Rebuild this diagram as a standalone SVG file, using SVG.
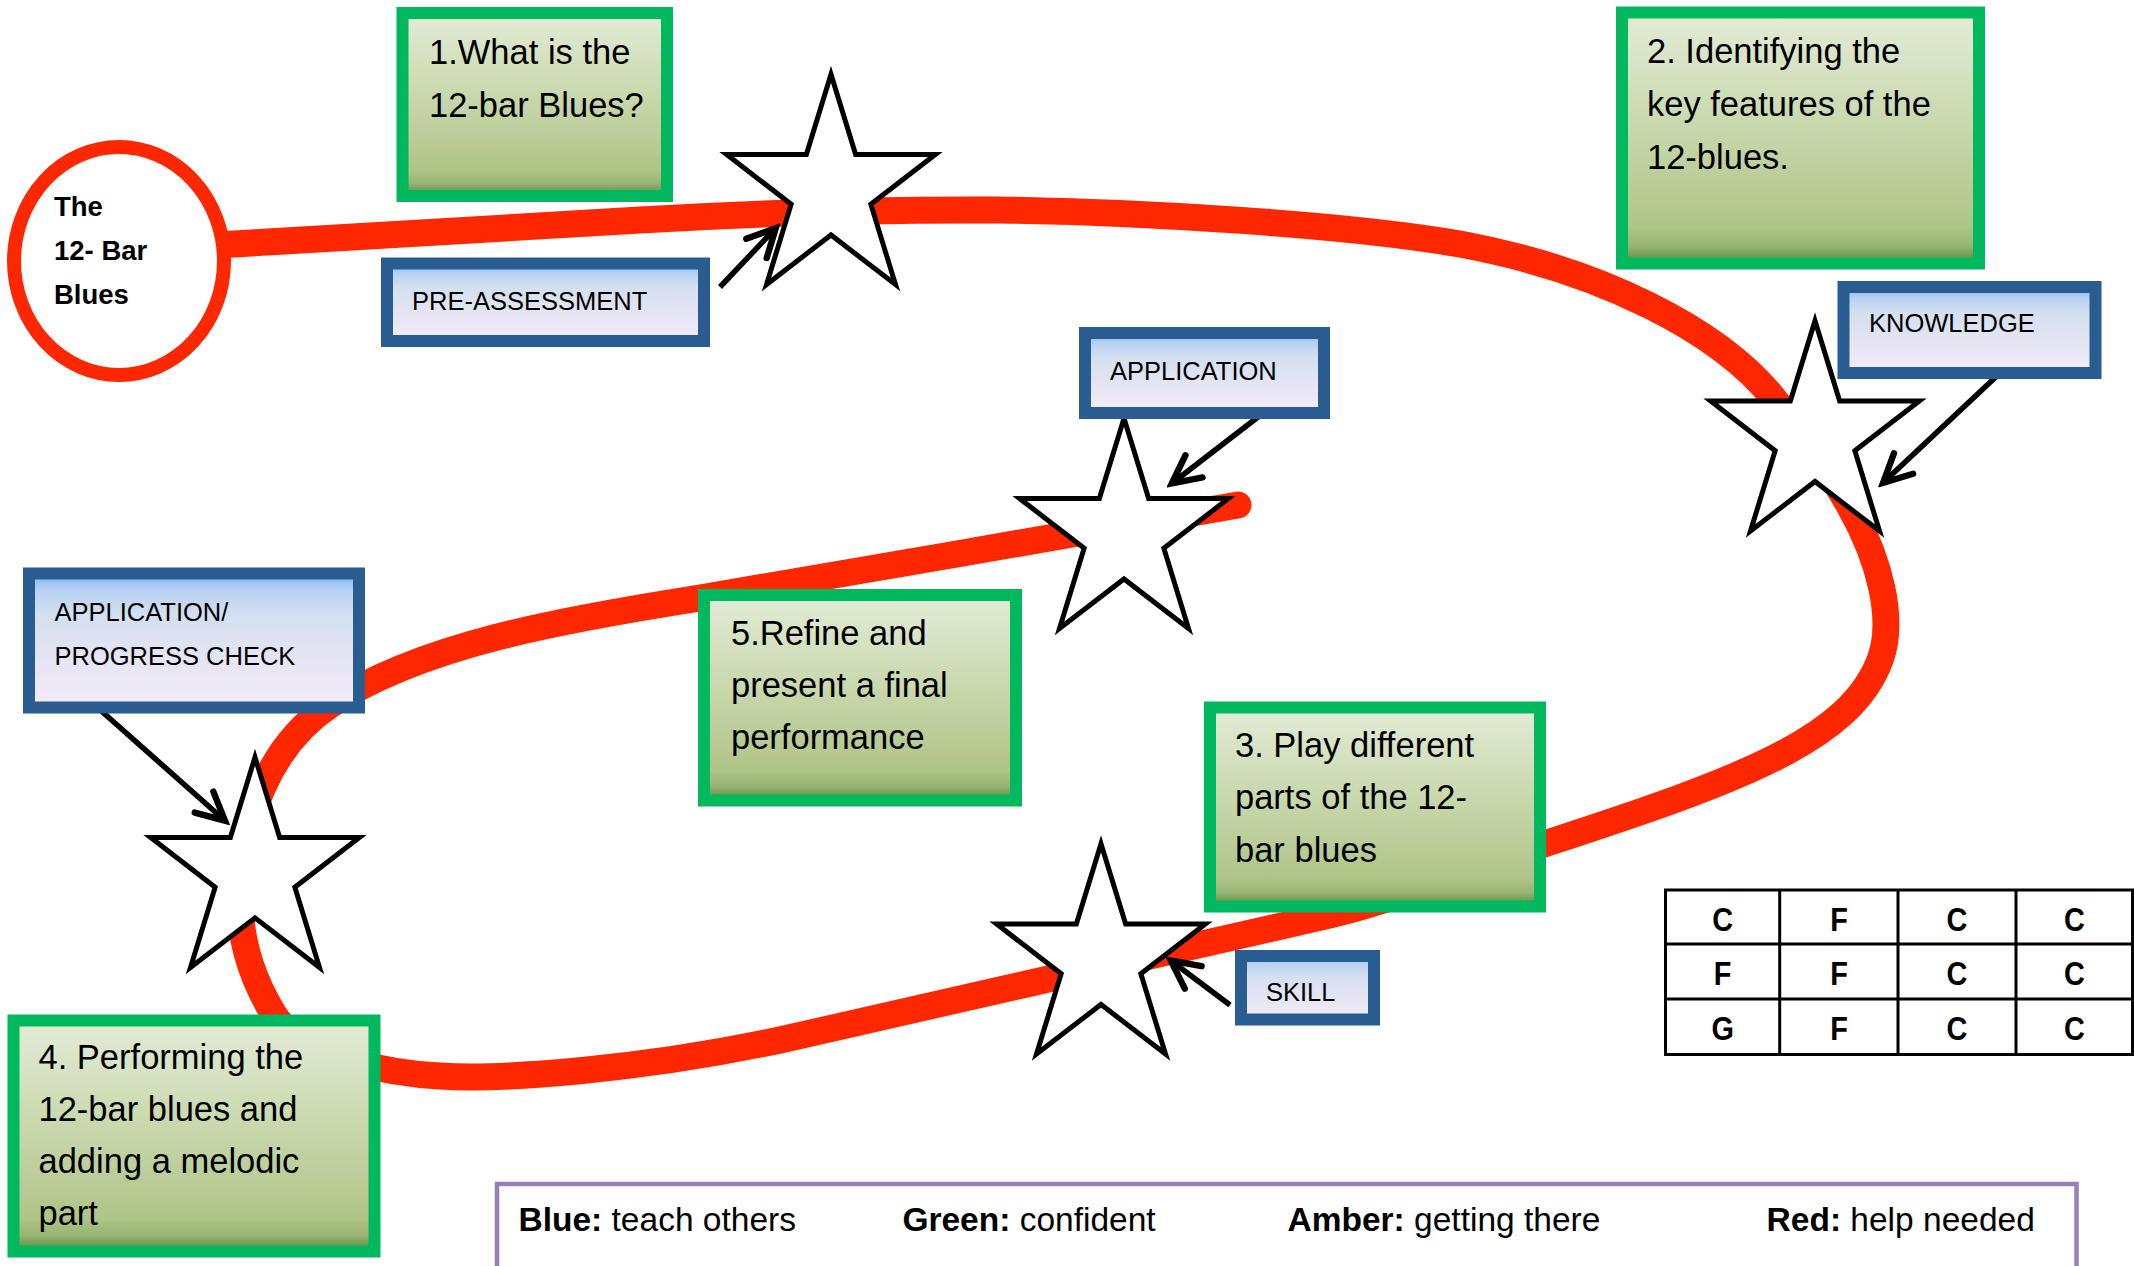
<svg xmlns="http://www.w3.org/2000/svg" xmlns:xlink="http://www.w3.org/1999/xlink" width="2134" height="1266" viewBox="0 0 2134 1266">
<style>
text { font-family: "Liberation Sans", Arial, sans-serif; fill: #000; }
.gbox { fill: url(#gGreen); stroke: #00b85e; stroke-width: 12; }
.bbox { fill: url(#gBlue); stroke: #295d91; stroke-width: 12; }
.gt { font-size: 34.5px; }
.bt { font-size: 25.5px; }
.star { fill: #fff; stroke: #000; stroke-width: 5; stroke-linejoin: miter; }
.red { fill: none; stroke: #fe2700; stroke-width: 27; stroke-linecap: round; stroke-linejoin: round; }
.arrow { fill: none; stroke: #000; stroke-width: 5.5; marker-end: url(#ah); }
.cell { font-size: 34px; font-weight: bold; text-anchor: middle; }
.grid { stroke: #000; stroke-width: 3; fill: none; }
.leg { font-size: 33.5px; }
</style>
<defs>
<linearGradient id="gGreen" x1="0" y1="0" x2="0" y2="1">
<stop offset="0" stop-color="#e3ecd7"/>
<stop offset="0.45" stop-color="#c9d8ad"/>
<stop offset="0.86" stop-color="#afc487"/>
<stop offset="0.93" stop-color="#98b474"/>
<stop offset="1" stop-color="#578a3a"/>
</linearGradient>
<linearGradient id="gBlue" x1="0" y1="0" x2="0" y2="1">
<stop offset="0" stop-color="#78b6f6"/>
<stop offset="0.12" stop-color="#b7d1f1"/>
<stop offset="0.3" stop-color="#d3dfef"/>
<stop offset="0.7" stop-color="#e8e6f4"/>
<stop offset="1" stop-color="#f5ebf8"/>
</linearGradient>
<path id="starShape" d="M0,-116.3 L24.63,-35.94 L104.32,-35.94 L39.85,13.72 L64.5,94.09 L0,44.43 L-64.5,94.09 L-39.85,13.72 L-104.32,-35.94 L-24.63,-35.94 Z"/>
<marker id="ah" viewBox="0 0 20 20" refX="15" refY="10" markerWidth="40" markerHeight="40" markerUnits="userSpaceOnUse" orient="auto">
<path d="M3,3 L17,10 L3,17" fill="none" stroke="#000" stroke-width="3.2" stroke-linecap="round" stroke-linejoin="miter"/>
</marker>
</defs>

<rect width="2134" height="1266" fill="#fff"/>

<g id="connectors">
<path id="journey" class="red" d="M225,244.5 L640,220 C720,215.3 850,209 1000,210 C1150,212 1350,225 1460,244 C1600,270 1720,330 1775,400 C1810,445 1838,485 1850,507 C1880,560 1895,620 1880,660 C1850,740 1740,780 1547,843 C1460,873 1400,898 1330,915 C1200,945 1000,990 780,1040 C640,1070 500,1080 440,1076 C400,1074 300,1060 273,1013 C250,975 240,935 240,900 C240,820 270,745 330,705 C420,645 560,620 700,598 C850,572 1100,530 1238,505"/>
<path class="arrow" d="M720,287 L773,231"/>
<path class="arrow" d="M2000,373 L1886,480"/>
<path class="arrow" d="M1258,417 L1175,481"/>
<path class="arrow" d="M98,708 L222,818"/>
<path class="arrow" d="M1230,1005 L1174,963"/>
</g>

<g id="start">
<ellipse cx="119" cy="261" rx="105" ry="114" fill="#fff" stroke="#fe2700" stroke-width="14"/>
<text x="54" y="216" font-size="27.5" font-weight="bold">The</text>
<text x="54" y="260" font-size="27.5" font-weight="bold">12- Bar</text>
<text x="54" y="304" font-size="27.5" font-weight="bold">Blues</text>
</g>

<g id="star1"><use xlink:href="#starShape" href="#starShape" class="star" x="831" y="190.5"/></g>
<g id="star2"><use xlink:href="#starShape" href="#starShape" class="star" x="1815" y="437"/></g>
<g id="star3"><use xlink:href="#starShape" href="#starShape" class="star" x="1124" y="534.5"/></g>
<g id="star4"><use xlink:href="#starShape" href="#starShape" class="star" x="255" y="873.5"/></g>
<g id="star5"><use xlink:href="#starShape" href="#starShape" class="star" x="1101" y="960"/></g>

<g id="step1">
<rect class="gbox" x="402.5" y="13" width="264.5" height="183"/>
<text class="gt" x="429" y="64">1.What is the</text>
<text class="gt" x="429" y="117">12-bar Blues?</text>
</g>

<g id="step2">
<rect class="gbox" x="1622" y="12.5" width="357" height="251"/>
<text class="gt" x="1647" y="63">2. Identifying the</text>
<text class="gt" x="1647" y="116">key features of the</text>
<text class="gt" x="1647" y="169">12-blues.</text>
</g>

<g id="step3">
<rect class="gbox" x="1210" y="707.5" width="330" height="199"/>
<text class="gt" x="1235" y="757">3. Play different</text>
<text class="gt" x="1235" y="809">parts of the 12-</text>
<text class="gt" x="1235" y="862">bar blues</text>
</g>

<g id="step4">
<rect class="gbox" x="13.5" y="1020.5" width="361" height="231"/>
<text class="gt" x="38.5" y="1069">4. Performing the</text>
<text class="gt" x="38.5" y="1121">12-bar blues and</text>
<text class="gt" x="38.5" y="1173">adding a melodic</text>
<text class="gt" x="38.5" y="1225">part</text>
</g>

<g id="step5">
<rect class="gbox" x="704" y="595" width="312" height="205.5"/>
<text class="gt" x="731" y="645">5.Refine and</text>
<text class="gt" x="731" y="697">present a final</text>
<text class="gt" x="731" y="749">performance</text>
</g>

<g id="preassessment">
<rect class="bbox" x="387" y="263.5" width="317" height="77.5"/>
<text class="bt" x="412" y="310">PRE-ASSESSMENT</text>
</g>

<g id="knowledge">
<rect class="bbox" x="1843.5" y="287" width="252" height="86"/>
<text class="bt" x="1869" y="332" font-size="26.5">KNOWLEDGE</text>
</g>

<g id="application">
<rect class="bbox" x="1085" y="333" width="239" height="80"/>
<text class="bt" x="1110" y="380" font-size="26.3">APPLICATION</text>
</g>

<g id="progress">
<rect class="bbox" x="29" y="573.5" width="330" height="134"/>
<text class="bt" x="54.5" y="621">APPLICATION/</text>
<text class="bt" x="54.5" y="665">PROGRESS CHECK</text>
</g>

<g id="skill">
<rect class="bbox" x="1241" y="956" width="133" height="63.5"/>
<text class="bt" x="1266" y="1001">SKILL</text>
</g>

<g id="chords">
<rect class="grid" x="1665.5" y="890" width="467" height="164.5"/>
<path class="grid" d="M1779.7,890 V1054.5 M1898,890 V1054.5 M2016,890 V1054.5 M1665.5,944 H2132.5 M1665.5,999 H2132.5"/>
<text class="cell" transform="matrix(0.85 0 0 1 1722.7 930.5)">C</text>
<text class="cell" transform="matrix(0.85 0 0 1 1839 930.5)">F</text>
<text class="cell" transform="matrix(0.85 0 0 1 1957 930.5)">C</text>
<text class="cell" transform="matrix(0.85 0 0 1 2074.5 930.5)">C</text>
<text class="cell" transform="matrix(0.85 0 0 1 1722.7 985)">F</text>
<text class="cell" transform="matrix(0.85 0 0 1 1839 985)">F</text>
<text class="cell" transform="matrix(0.85 0 0 1 1957 985)">C</text>
<text class="cell" transform="matrix(0.85 0 0 1 2074.5 985)">C</text>
<text class="cell" transform="matrix(0.85 0 0 1 1722.7 1040)">G</text>
<text class="cell" transform="matrix(0.85 0 0 1 1839 1040)">F</text>
<text class="cell" transform="matrix(0.85 0 0 1 1957 1040)">C</text>
<text class="cell" transform="matrix(0.85 0 0 1 2074.5 1040)">C</text>
</g>

<g id="legend">
<rect x="497" y="1184" width="1579.5" height="120" fill="#fff" stroke="#9680b6" stroke-width="4.5"/>
<text class="leg" x="518.5" y="1231"><tspan font-weight="bold">Blue:</tspan> teach others</text>
<text class="leg" x="902.4" y="1231"><tspan font-weight="bold">Green:</tspan> confident</text>
<text class="leg" x="1287.5" y="1231"><tspan font-weight="bold">Amber:</tspan> getting there</text>
<text class="leg" x="1766.6" y="1231"><tspan font-weight="bold">Red:</tspan> help needed</text>
</g>
</svg>
